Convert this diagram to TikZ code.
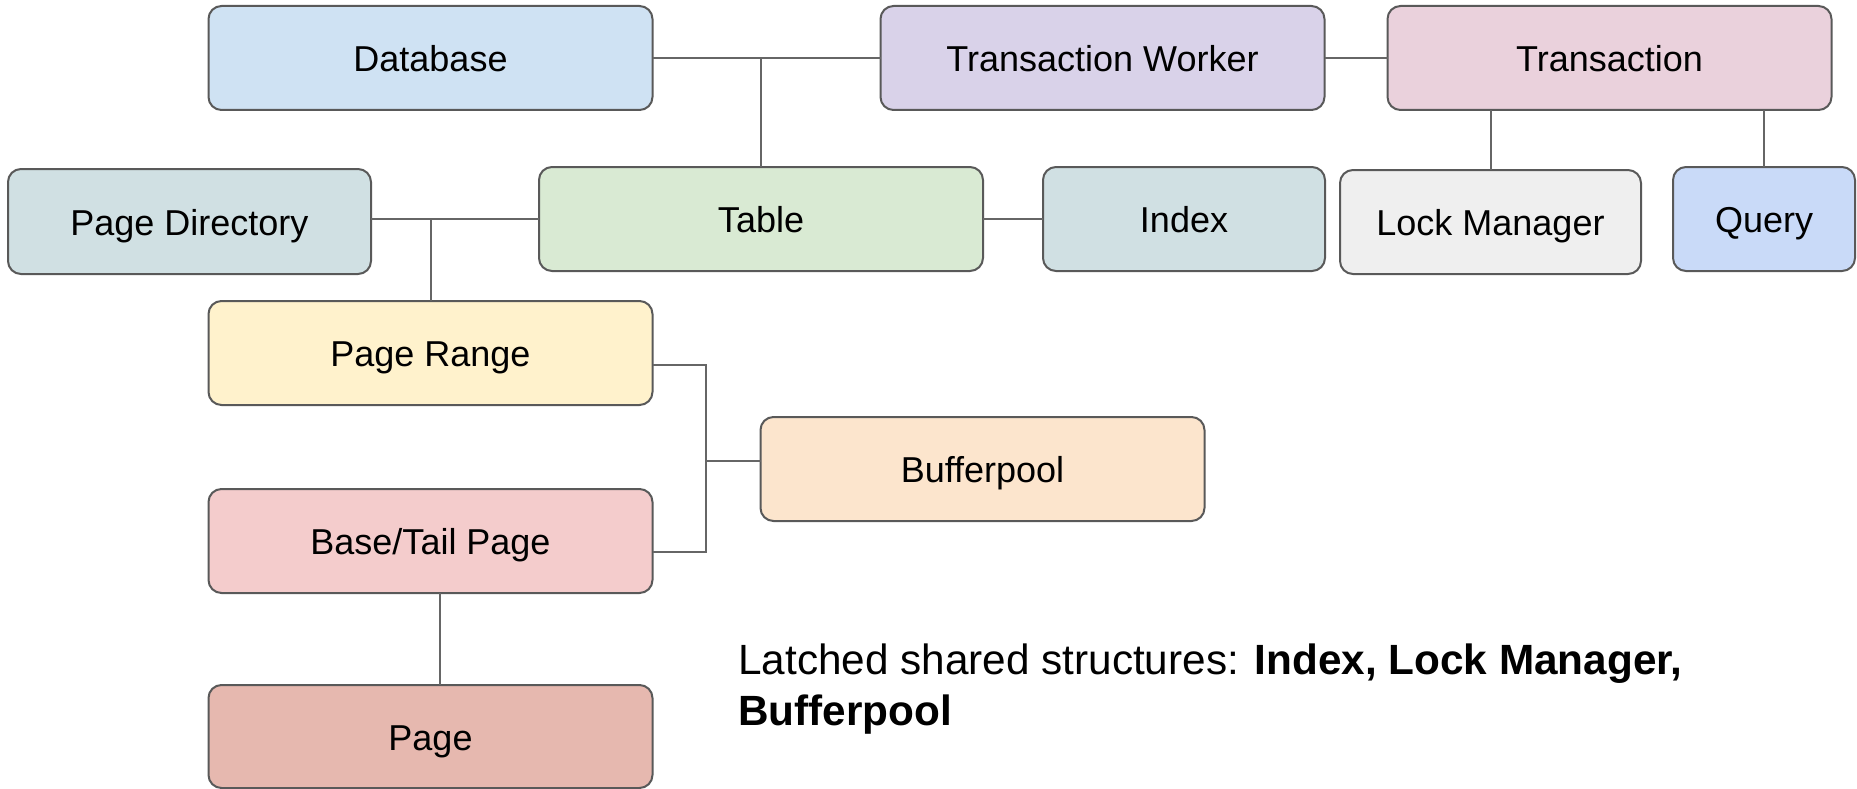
\documentclass[tikz,border=0pt]{standalone}
\usepackage{fontspec}
\setmainfont{Liberation Sans}
\definecolor{cDb}{HTML}{CFE2F3}
\definecolor{cTw}{HTML}{D9D2E9}
\definecolor{cTx}{HTML}{EAD1DC}
\definecolor{cCyan}{HTML}{D0E0E3}
\definecolor{cTbl}{HTML}{D9EAD3}
\definecolor{cLm}{HTML}{EFEFEF}
\definecolor{cQry}{HTML}{C9DAF8}
\definecolor{cPr}{HTML}{FFF2CC}
\definecolor{cBp}{HTML}{FCE5CD}
\definecolor{cBt}{HTML}{F4CCCC}
\definecolor{cPg}{HTML}{E6B8AF}
\definecolor{cBorder}{HTML}{595959}
\definecolor{cLink}{HTML}{666666}
\tikzset{
  box/.style={draw=cBorder, line width=2pt, rounded corners=13pt,
    minimum width=444pt, minimum height=104pt, inner sep=0pt, outer sep=0pt,
    font=\fontsize{36pt}{40pt}\selectfont, text height=27pt, text depth=0pt},
  link/.style={draw=cLink, line width=2pt}
}
\begin{document}
\begin{tikzpicture}[x=1pt, y=-1pt]
\useasboundingbox (0,0) rectangle (1857,789);

% top row
\node[box, fill=cDb] (db) at (430.5,58) {Database};
\node[box, fill=cTw] (tw) at (1102.5,58) {Transaction Worker};
\node[box, fill=cTx] (tx) at (1609.5,58) {Transaction};

% second row
\node[box, fill=cCyan, minimum width=363pt, minimum height=105pt] (pd) at (189.5,221.5) {Page Directory};
\node[box, fill=cTbl] (tbl) at (761,219) {Table};
\node[box, fill=cCyan, minimum width=282pt] (idx) at (1184,219) {Index};
\node[box, fill=cLm, minimum width=301pt] (lm) at (1490.5,222) {Lock Manager};
\node[box, fill=cQry, minimum width=182pt] (qry) at (1764,219) {Query};

% storage layers
\node[box, fill=cPr] (pr) at (430.5,353) {Page Range};
\node[box, fill=cBp] (bp) at (982.5,469) {Bufferpool};
\node[box, fill=cBt] (bt) at (430.5,541) {Base/Tail Page};
\node[box, fill=cPg, minimum height=103pt] (pg) at (430.5,736.5) {Page};

% connectors
\draw[link] (db.east) -- (tw.west);
\draw[link] (tbl.north) -- (tbl.north |- db.east);
\draw[link] (tw.east) -- (tx.west);
\draw[link] (lm.north) -- (lm.north |- tx.south);
\draw[link] (qry.north) -- (qry.north |- tx.south);
\draw[link] (tbl.west) -- (tbl.west -| pd.east);
\draw[link] (pr.north) -- (pr.north |- tbl.west);
\draw[link] (tbl.east) -- (idx.west);
\coordinate (bus) at (706,469);
\draw[link] ([yshift=-12pt]pr.east) -| (bus) |- ([yshift=-11pt]bt.east);
\draw[link] ([yshift=8pt]bp.west) -- ([yshift=8pt]bp.west -| bus);
\draw[link] ([xshift=9.5pt]bt.south) -- ([xshift=9.5pt]pg.north);

% note (base anchor sits on the last line)
\node[anchor=base west, align=left, inner sep=0pt,
  font=\fontsize{42.3pt}{51pt}\selectfont] (note) at (738,725)
  {Latched shared structures: \textbf{Index, Lock Manager,}\\\textbf{Bufferpool}};
\end{tikzpicture}
\end{document}
